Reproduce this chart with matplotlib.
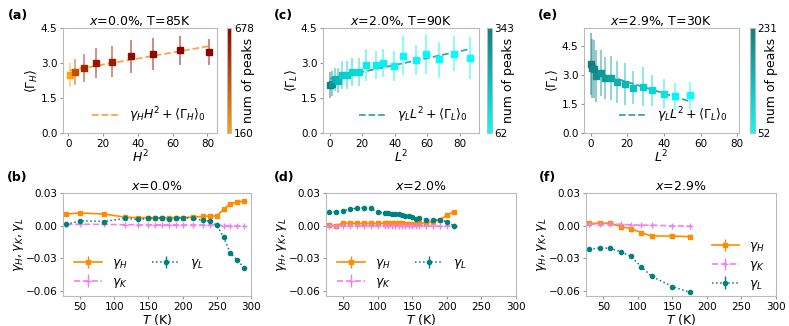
import numpy as np
import matplotlib
matplotlib.use('Agg')
import matplotlib.pyplot as plt
from matplotlib.colors import LinearSegmentedColormap, Normalize
from matplotlib.cm import ScalarMappable

plt.rcParams['font.family'] = ['DejaVu Sans']
plt.rcParams['mathtext.fontset'] = 'dejavusans'

# ---- top row: widths vs momentum squared ----
# (a) x=0.0%, T=85K
h2 = [1, 4, 9, 16, 25, 36, 49, 64, 81]
gam_h = [2.48, 2.62, 2.80, 3.01, 3.06, 3.28, 3.38, 3.54, 3.48]
gam_h_err = [0.50, 0.55, 0.60, 0.65, 0.65, 0.70, 0.70, 0.63, 0.55]
peaks_a = [160, 430, 560, 610, 590, 650, 660, 678, 665]
fit_a = (0.0130, 2.67)  # slope, intercept

# (c) x=2.0%, T=90K
l2_c = [0, 1.2, 2.9, 5.2, 7.4, 10.6, 13.8, 18.3, 22.2, 28.2, 32.5, 39.4, 44.9, 53.0, 59.5, 67.5, 76.3, 86.5]
gam_c = [2.05, 2.12, 2.30, 2.25, 2.50, 2.49, 2.63, 2.60, 2.92, 2.91, 3.00, 2.86, 3.32, 3.13, 3.40, 3.16, 3.40, 3.20]
gam_c_err = [0.55, 0.55, 0.50, 0.55, 0.60, 0.60, 0.60, 0.60, 0.68, 0.60, 0.60, 0.65, 0.82, 0.65, 0.85, 0.75, 0.75, 0.90]
peaks_c = [343, 300, 230, 215, 170, 160, 150, 140, 100, 95, 90, 85, 75, 75, 70, 68, 65, 62]
fit_c = (0.0148, 2.32)

# (e) x=2.9%, T=30K
l2_e = [0, 0.7, 1.9, 3.1, 5.5, 7.7, 11.0, 14.3, 18.9, 22.9, 28.6, 33.4, 40.0, 46.0, 54.0]
gam_e = [3.58, 3.35, 3.32, 2.96, 3.10, 2.86, 2.84, 2.64, 2.55, 2.36, 2.40, 2.22, 2.05, 1.90, 1.95]
gam_e_err = [1.60, 1.55, 1.50, 1.35, 1.20, 1.10, 1.15, 1.10, 1.10, 0.85, 1.00, 0.80, 0.75, 0.70, 0.70]
peaks_e = [231, 225, 215, 205, 195, 185, 175, 160, 150, 135, 120, 105, 85, 65, 52]
fit_e = (-0.0295, 3.24)

# ---- bottom row: gamma coefficients vs temperature ----
t_b = [30, 50, 85, 115, 135, 150, 160, 170, 180, 190, 200, 215, 230, 240, 250, 260, 270, 280, 290]
gH_b = [0.0106, 0.0116, 0.0106, 0.0078, 0.0072, 0.0072, 0.0072, 0.0072, 0.0072, 0.0072, 0.0074,
        0.0078, 0.0084, 0.0088, 0.0088, 0.0150, 0.0200, 0.0218, 0.0226]
gK_b = [0.0010, 0.0012, 0.0010, 0.0008, 0.0007, 0.0007, 0.0007, 0.0006, 0.0006, 0.0006, 0.0006,
        0.0005, 0.0005, 0.0004, 0.0003, 0.0000, -0.0002, -0.0003, -0.0004]
gL_b = [0.0010, 0.0044, 0.0037, 0.0066, 0.0056, 0.0066, 0.0066, 0.0068, 0.0060, 0.0066, 0.0072,
        0.0068, 0.0047, 0.0040, 0.0003, -0.0110, -0.0255, -0.0320, -0.0390]

t_d = [30, 40, 50, 60, 70, 80, 90, 100, 110, 115, 120, 125, 130, 135, 140, 145, 150, 155, 160, 170, 180, 190, 200, 210]
gH_d = [0.0003, 0.0000, 0.0024, 0.0022, 0.0021, 0.0021, 0.0021, 0.0021, 0.0022, 0.0022, 0.0021, 0.0020,
        0.0020, 0.0019, 0.0018, 0.0018, 0.0017, 0.0018, 0.0020, 0.0025, 0.0035, 0.0055, 0.0095, 0.0128]
gK_d = [-0.0002, -0.0003, -0.0002, -0.0002, -0.0002, -0.0002, -0.0002, -0.0002, -0.0003, -0.0003, -0.0003,
        -0.0003, -0.0003, -0.0003, -0.0003, -0.0004, -0.0004, -0.0004, -0.0004, -0.0004, -0.0005, -0.0005,
        -0.0005, -0.0005]
gL_d = [0.0125, 0.0128, 0.0138, 0.0148, 0.0162, 0.0165, 0.0162, 0.0122, 0.0118, 0.0112, 0.0105, 0.0108,
        0.0110, 0.0093, 0.0088, 0.0085, 0.0075, 0.0063, 0.0065, 0.0055, 0.0050, 0.0052, 0.0035, -0.0001]

t_f = [30, 45, 60, 75, 90, 105, 120, 150, 175]
gH_f = [0.0019, 0.0022, 0.0022, -0.0010, -0.0028, -0.0066, -0.0097, -0.0097, -0.0103]
gK_f = [0.0012, 0.0010, 0.0010, 0.0012, 0.0006, 0.0003, 0.0003, -0.0003, -0.0006]
gL_f = [-0.0220, -0.0205, -0.0211, -0.0240, -0.0285, -0.0380, -0.0468, -0.0563, -0.0615]

W, H = 789, 326
fig = plt.figure(figsize=(W / 100, H / 100), dpi=100)


def px_axes(left, right, top, bottom):
    return fig.add_axes([left / W, (H - bottom) / H, (right - left) / W, (bottom - top) / H])


def style(ax):
    for s in ax.spines.values():
        s.set_color('#bbbbbb')
    ax.tick_params(labelsize=7.5, color='#999999', length=2.5, pad=1.5)


orange = 'darkorange'
teal = 'teal'
violet = 'violet'

cmap_a = LinearSegmentedColormap.from_list('oranges', ['#ffa500', '#8b0000'])
cmap_cl = LinearSegmentedColormap.from_list('cyans', ['#00ffff', '#137c7c'])

top_panels = [
    ('(a)', h2, gam_h, gam_h_err, peaks_a, fit_a, cmap_a, '#ff9a30', (63, 217, 227),
     r'$x$=0.0%, T=85K', r'$H^2$', r'$\langle\Gamma_H\rangle$',
     r'$\gamma_H H^2+\langle\Gamma_H\rangle_0$', (-3, 85.5), 4.5, 18),
    ('(c)', l2_c, gam_c, gam_c_err, peaks_c, fit_c, cmap_cl, '#2a9a9a', (323, 479, 487),
     r'$x$=2.0%, T=90K', r'$L^2$', r'$\langle\Gamma_L\rangle$',
     r'$\gamma_L L^2+\langle\Gamma_L\rangle_0$', (-4.2, 92), 4.5, 283),
    ('(e)', l2_e, gam_e, gam_e_err, peaks_e, fit_e, cmap_cl, '#2a9a9a', (584, 739, 750),
     r'$x$=2.9%, T=30K', r'$L^2$', r'$\langle\Gamma_L\rangle$',
     r'$\gamma_L L^2+\langle\Gamma_L\rangle_0$', (-3.6, 81), 5.45, 548),
]

for (tag, xs, ys, errs, peaks, fit, cmap, fitc, (l, r, cbl), title, xl, yl, leg,
     xlim, ytop, tagx) in top_panels:
    ax = px_axes(l, r, 28, 133)
    norm = Normalize(min(peaks), max(peaks))
    xs = np.array(xs)
    xfit = np.array([xs.min() if xs.min() > 0 else 0, xs.max()])
    ax.plot(xfit, fit[0] * xfit + fit[1], '--', color=fitc, lw=1.3, alpha=0.9, label=leg, zorder=3)
    for x, y, e, n in zip(xs, ys, errs, peaks):
        c = cmap(norm(n))
        ax.errorbar(x, y, yerr=e, fmt='none', ecolor=c, alpha=0.5, elinewidth=1.3, zorder=2)
        ax.plot(x, y, 's', color=c, ms=4, zorder=4)
    ax.set_xlim(*xlim)
    ax.set_ylim(0, ytop)
    ax.set_yticks([0, 1.5, 3.0, 4.5])
    ax.set_xticks([0, 20, 40, 60, 80])
    ax.set_title(title, fontsize=9, pad=1.5)
    ax.set_xlabel(xl, fontsize=9, labelpad=0)
    ax.set_ylabel(yl, fontsize=9, labelpad=0.5)
    ax.legend(loc='lower right', fontsize=9, frameon=False, handlelength=2.2,
              bbox_to_anchor=(1.0, -0.03))
    style(ax)
    cax = px_axes(cbl, cbl + 4.5, 28, 133)
    cb = fig.colorbar(ScalarMappable(norm=norm, cmap=cmap), cax=cax,
                      ticks=[min(peaks), max(peaks)])
    cb.outline.set_edgecolor('#bbbbbb')
    cax.tick_params(labelsize=7.5, length=0, pad=2)
    cb.set_label('num of peaks', fontsize=9, labelpad=-9)
    fig.text(tagx / W, 1 - 15 / H, tag, fontsize=9, fontweight='bold', ha='center', va='center')

bottom_panels = [
    ('(b)', t_b, gH_b, gK_b, gL_b, (63, 251), r'$x$=0.0%', 17),
    ('(d)', t_d, gH_d, gK_d, gL_d, (326, 516), r'$x$=2.0%', 284),
    ('(f)', t_f, gH_f, gK_f, gL_f, (586, 776), r'$x$=2.9%', 547),
]

for tag, ts, gh, gk, gl, (l, r), title, tagx in bottom_panels:
    ax = px_axes(l, r, 193, 296)
    ax.errorbar(ts, gh, yerr=0.0008, fmt='s-', color=orange, ms=3.5, lw=1.2,
                elinewidth=1, label=r'$\gamma_H$')
    ax.errorbar(ts, gk, yerr=0.0008, fmt='+--', color=violet, ms=5, lw=1.2,
                elinewidth=1, label=r'$\gamma_K$')
    ax.errorbar(ts, gl, yerr=0.0008, fmt='o:', color=teal, ms=3, lw=1.1,
                elinewidth=1, label=r'$\gamma_L$')
    ax.set_xlim(25, 300)
    ax.set_ylim(-0.065, 0.03)
    ax.set_xticks([50, 100, 150, 200, 250, 300])
    ax.set_yticks([0.03, 0.0, -0.03, -0.06])
    ax.set_yticklabels(['0.03', '0.00', '\u22120.03', '\u22120.06'])
    ax.set_title(title, fontsize=9, pad=2.5)
    ax.set_xlabel(r'$T$ (K)', fontsize=9, labelpad=0)
    ax.set_ylabel(r'$\gamma_H, \gamma_K, \gamma_L$', fontsize=9, labelpad=0)
    if tag == '(f)':
        ax.legend(loc='lower right', fontsize=9, frameon=False, ncol=1,
                  handlelength=2.2, labelspacing=0.3, bbox_to_anchor=(1.0, -0.07))
    else:
        ax.legend(loc='lower left', fontsize=9, frameon=False, ncol=2,
                  handlelength=2.2, labelspacing=0.3, columnspacing=2.0,
                  bbox_to_anchor=(0.0, -0.05))
    style(ax)
    fig.text(tagx / W, 1 - 177 / H, tag, fontsize=9, fontweight='bold', ha='center', va='center')

fig.savefig('out.png', dpi=100)
